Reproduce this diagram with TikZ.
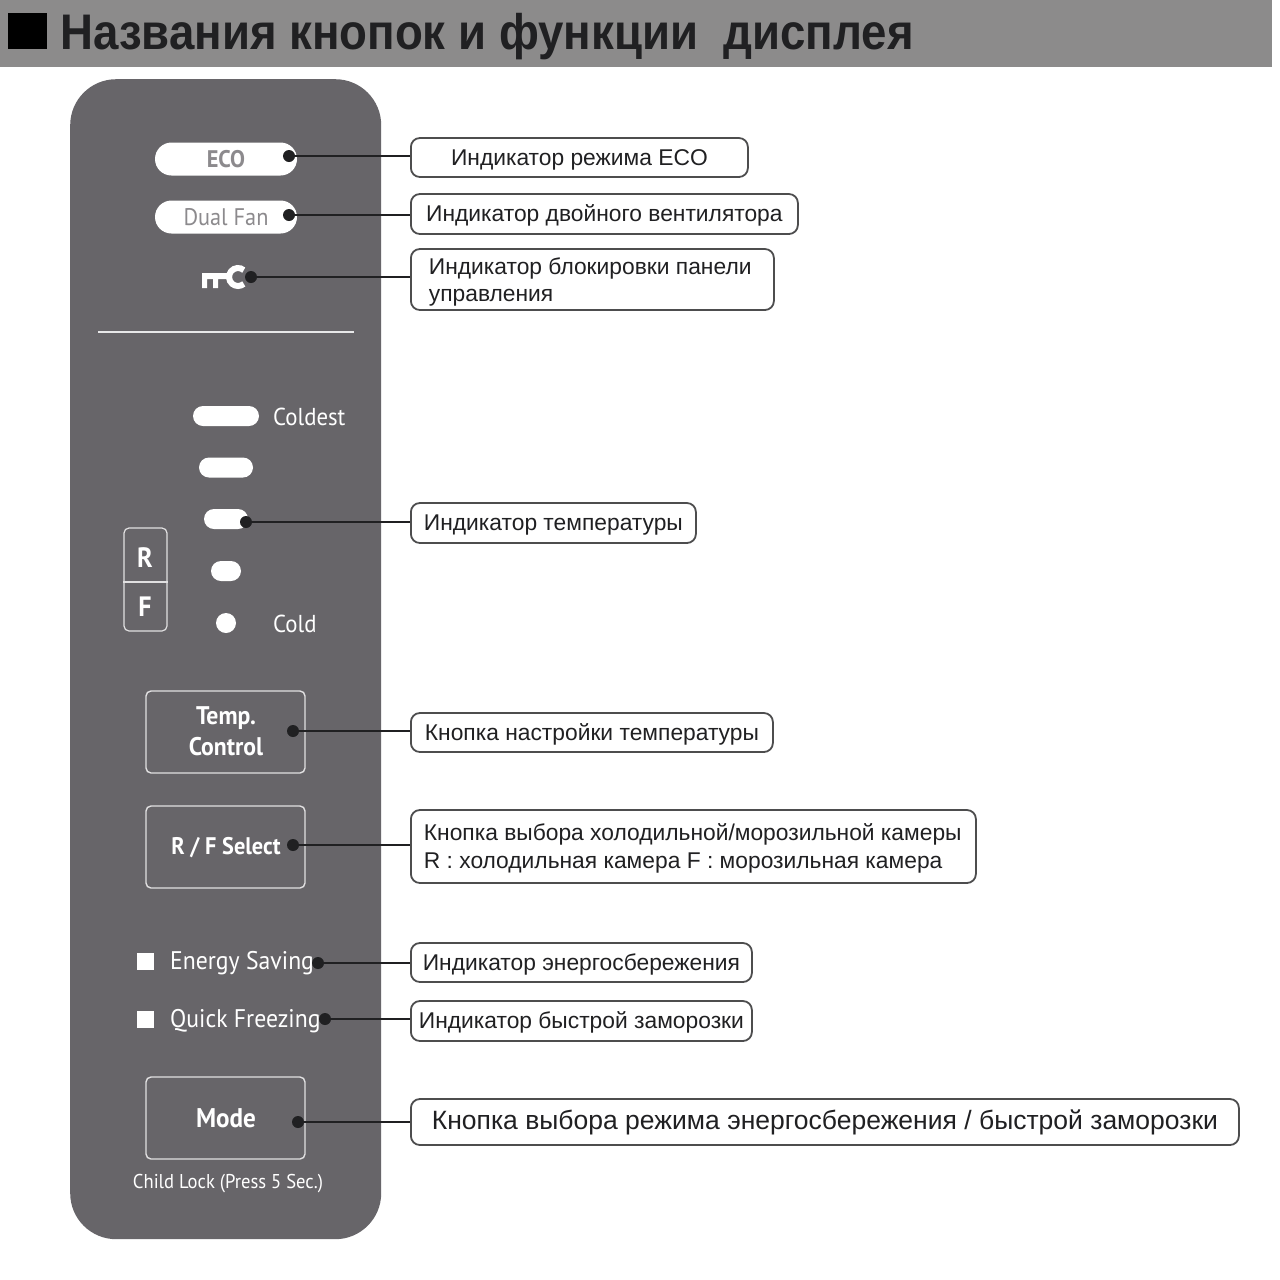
\documentclass[tikz,border=0pt]{standalone}
\usepackage{fontspec}
\setmainfont{Liberation Sans}
\newfontfamily\titlefont[FakeStretch=0.912]{Liberation Sans}
\newfontfamily\panelfont[FakeStretch=0.93]{PT Sans}
\usetikzlibrary{shapes.misc, positioning}
\definecolor{BandGray}{RGB}{140,139,139}
\definecolor{PanelGray}{RGB}{103,101,105}
\definecolor{PillText}{RGB}{140,138,141}
\definecolor{InkDark}{RGB}{32,32,34}
\newcommand{\fsz}[1]{\fontsize{#1}{#1}\selectfont}

\begin{document}
\begin{tikzpicture}[
    x=1pt, y=-1pt,
    band/.style={rectangle, fill=BandGray, draw=none, inner sep=0pt, minimum width=1272pt, minimum height=67pt, anchor=north west},
    panel/.style={rectangle, fill=PanelGray, draw=none, rounded corners=46pt, inner sep=0pt, minimum width=311pt, minimum height=1160pt, anchor=north west},
    pill/.style={rounded rectangle, fill=white, draw=none, inner sep=0pt, minimum width=142pt, minimum height=33pt, text=PillText, font=\panelfont\bfseries\fsz{24}},
    bar/.style={rounded rectangle, fill=white, draw=none, inner sep=0pt, minimum height=20pt},
    paneltext/.style={text=white, inner sep=0pt, align=center, font=\panelfont\fsz{24.5}},
    btn/.style={rectangle, draw=white!80!PanelGray, line width=1.4pt, rounded corners=5pt, inner sep=0pt, minimum width=159pt, minimum height=82pt},
    ledsq/.style={rectangle, fill=white, draw=none, inner sep=0pt, minimum size=17pt},
    pin/.style={circle, fill=InkDark, draw=none, inner sep=0pt, minimum size=12pt},
    labelbox/.style 2 args={rectangle, draw=InkDark!80!white, fill=white, line width=1.8pt, rounded corners=9pt,
                inner sep=0pt, minimum width=#1, minimum height=#2, anchor=west, text=InkDark, font=\fsz{22.8},
                execute at begin node={\rule{0pt}{20pt}}},
    lead/.style={InkDark, line width=2.6pt}
]
\useasboundingbox (0,0) rectangle (1280,1280);
\fill[white] (0,0) rectangle (1280,1280);

\node[band] (titleband) at (0,0) {};
\node[rectangle, fill=black, inner sep=0pt, minimum width=39pt, minimum height=36pt] (titlesq) at (27.5,31) {};
\node[anchor=west, inner sep=0pt, font=\titlefont\bfseries\fsz{50}, text=InkDark] (title) at (60,37) {Названия кнопок и функции\ \ дисплея};

\node[panel] (board) at (70,79) {};

\node[pill] (eco) at (226,159) {ECO};
\node[pill, font=\panelfont\fsz{24}] (dualfan) at (226,217) {Dual Fan};

\draw[white, line width=6pt] (243.8,270.1) arc[start angle=50, end angle=310, radius=9pt];
\fill[white] (202,273) rectangle (232,279) (202,279) rectangle (207,288) (213,279) rectangle (218,288);

\draw[white!85!PanelGray, line width=1.5pt] (98,332) -- (354,332);

\node[bar, minimum width=66pt] (tempa) at (226,416) {};
\node[bar, minimum width=54pt] (tempb) at (226,467.5) {};
\node[bar, minimum width=44pt] (tempc) at (226,519) {};
\node[bar, minimum width=30pt] (tempd) at (226,571) {};
\node[circle, fill=white, inner sep=0pt, minimum size=20pt] (tempe) at (226,623) {};
\node[paneltext, anchor=west] (coldest) at (273,417) {Coldest};
\node[paneltext, anchor=west] (cold) at (273,624) {Cold};

\node[rectangle, draw=white!80!PanelGray, line width=1.2pt, rounded corners=5pt, inner sep=0pt, minimum width=43pt, minimum height=103pt] (rfbox) at (145.5,579.5) {};
\draw[white!80!PanelGray, line width=1.2pt] (rfbox.west |- 0,582) -- (rfbox.east |- 0,582);
\node[paneltext, font=\panelfont\bfseries\fsz{28}] (rletter) at (145,558) {R};
\node[paneltext, font=\panelfont\bfseries\fsz{28}] (fletter) at (145,607) {F};

\node[btn] (tempbtn) at (225.5,732) {};
\node[paneltext, font=\panelfont\bfseries\fsz{25.5}] (temptext) at (226,731) {Temp.\\[6pt]Control};
\node[btn] (rfbtn) at (225.5,847) {};
\node[paneltext, font=\panelfont\bfseries\fsz{24}] (rftext) at (226,848) {R / F Select};

\node[ledsq] (ledenergy) at (145.5,961.5) {};
\node[paneltext, anchor=west, font=\panelfont\fsz{25.5}] (energy) at (170,963) {Energy Saving};
\node[ledsq] (ledquick) at (145.5,1019.5) {};
\node[paneltext, anchor=west, font=\panelfont\fsz{25.5}] (quick) at (170,1021) {Quick Freezing};

\node[btn] (modebtn) at (225.5,1118) {};
\node[paneltext, font=\panelfont\bfseries\fsz{27}] (modetext) at (226,1118) {Mode};
\node[paneltext, font=\panelfont\fsz{20}] (childlock) at (228,1184) {Child Lock (Press 5 Sec.)};

\node[labelbox={337pt}{39pt}] (boxeco) at (410,157.5) {Индикатор режима ECO};
\node[labelbox={387pt}{40pt}] (boxfan) at (410,214) {Индикатор двойного вентилятора};
\node[labelbox={363pt}{61pt}] (boxlock) at (410,279.5) {\parbox[c]{327pt}{\vspace{5pt}Индикатор блокировки панели\\[4.5pt]управления}};
\node[labelbox={285pt}{40pt}] (boxtemp) at (410,523) {Индикатор температуры};
\node[labelbox={362pt}{39pt}] (boxadj) at (410,732.5) {Кнопка настройки температуры};
\node[labelbox={565pt}{73pt}] (boxrf) at (410,846.5) {\parbox[c]{539pt}{\vspace{4pt}Кнопка выбора холодильной/морозильной камеры\\[4.5pt]R : холодильная камера F : морозильная камера}};
\node[labelbox={341pt}{39pt}] (boxenergy) at (410,962.5) {Индикатор энергосбережения};
\node[labelbox={341pt}{40pt}] (boxquick) at (410,1021) {Индикатор быстрой заморозки};
\node[labelbox={828pt}{46pt}, font=\fsz{26.5}] (boxmode) at (410,1122) {Кнопка выбора режима энергосбережения / быстрой заморозки};

\node[pin] (pineco) at (289,156) {};
\node[pin] (pinfan) at (289,215) {};
\node[pin] (pinkey) at (251,277) {};
\node[pin] (pintemp) at (246,522) {};
\node[pin] (pinadj) at (293,731) {};
\node[pin] (pinrf) at (293,845) {};
\node[pin] (pinenergy) at (318,963) {};
\node[pin] (pinquick) at (325,1019) {};
\node[pin] (pinmode) at (298,1122) {};

\draw[lead] (pineco) -- (pineco -| boxeco.west);
\draw[lead] (pinfan) -- (pinfan -| boxfan.west);
\draw[lead] (pinkey) -- (pinkey -| boxlock.west);
\draw[lead] (pintemp) -- (pintemp -| boxtemp.west);
\draw[lead] (pinadj) -- (pinadj -| boxadj.west);
\draw[lead] (pinrf) -- (pinrf -| boxrf.west);
\draw[lead] (pinenergy) -- (pinenergy -| boxenergy.west);
\draw[lead] (pinquick) -- (pinquick -| boxquick.west);
\draw[lead] (pinmode) -- (pinmode -| boxmode.west);
\end{tikzpicture}
\end{document}
